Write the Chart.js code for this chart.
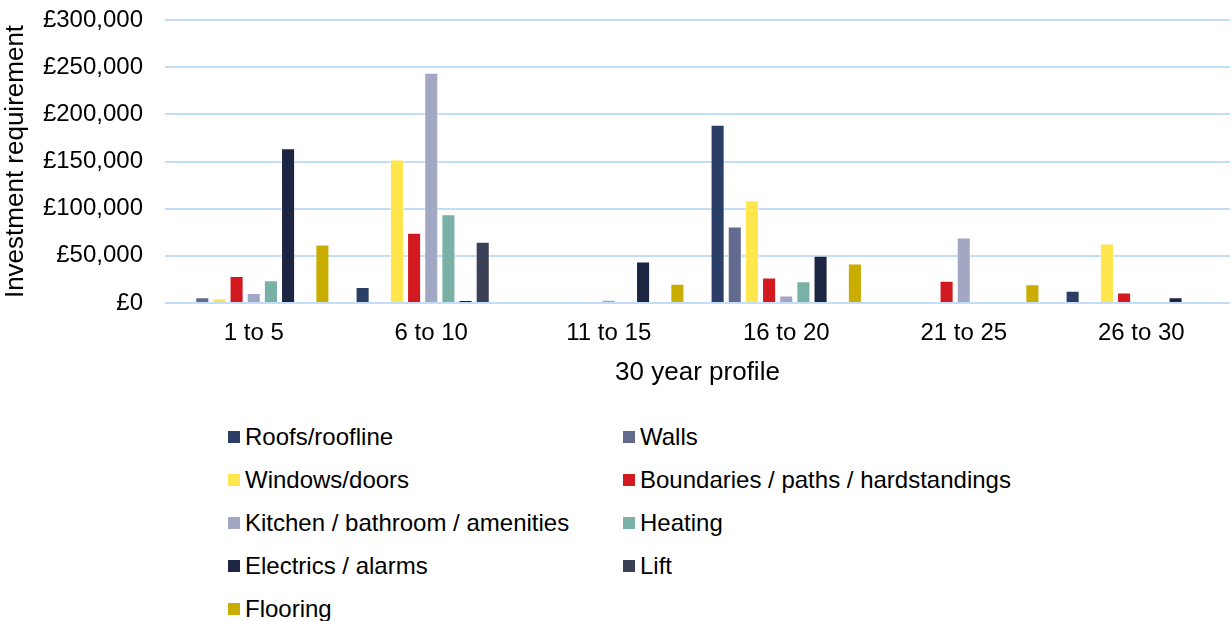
<!DOCTYPE html>
<html lang="en">
<head>
    <meta charset="UTF-8">
    <title>30 year profile</title>
    <script src="https://cdn.jsdelivr.net/npm/chart.js"></script>
    <style>
        body { margin: 0; background: #fff; font-family: 'Liberation Sans', Arial, sans-serif; }
        #wrap { position: relative; width: 1232px; height: 621px; }
        #legend { position: absolute; left: 228px; top: 424px; display: grid;
                  grid-template-columns: 395px 400px; row-gap: 17px; font-size: 24px; color: #000; }
        #legend div { display: flex; align-items: center; height: 26px; white-space: nowrap; }
        #legend span.box { display: inline-block; width: 12px; height: 12px; margin-right: 5px; }
    </style>
</head>
<body>
<div id="wrap">
    <canvas id="myChart" width="1232" height="400"></canvas>
    <div id="legend"></div>
</div>
<script>
    // categories / tick labels
    const periods = ['1 to 5', '6 to 10', '11 to 15', '16 to 20', '21 to 25', '26 to 30'];
    const yTicks = [0, 50000, 100000, 150000, 200000, 250000, 300000];

    // series values (£)
    const roofs      = [0,      17000,  0,     189000, 0,     13000];
    const walls      = [6000,   0,      0,     81000,  0,     0];
    const windows    = [5000,   152000, 1500,  109000, 0,     63000];
    const boundaries = [28500,  74500,  0,     27000,  23500, 11000];
    const kitchen    = [10500,  244000, 3500,  8000,   69500, 0];
    const heating    = [24000,  94000,  0,     23000,  0,     0];
    const electrics  = [164000, 3000,   44000, 50000,  0,     6000];
    const lift       = [0,      65000,  0,     0,      0,     0];
    const flooring   = [62000,  0,      20500, 42000,  20000, 0];

    const seriesNames = ['Roofs/roofline', 'Walls', 'Windows/doors', 'Boundaries / paths / hardstandings',
        'Kitchen / bathroom / amenities', 'Heating', 'Electrics / alarms', 'Lift', 'Flooring'];
    const seriesValues = [roofs, walls, windows, boundaries, kitchen, heating, electrics, lift, flooring];
    const seriesColors = ['#2b3e66', '#626b8f', '#ffe64d', '#d1191f', '#a2a7c3', '#79b1a6', '#1c2541', '#3b4056', '#c9ad00'];

    const font = "'Liberation Sans', Arial, sans-serif";
    const gridBlue = '#c2ddf7';

    const ctx = document.getElementById('myChart').getContext('2d');
    const myChart = new Chart(ctx, {
        type: 'bar',
        data: {
            labels: periods,
            datasets: seriesNames.map((name, i) => ({
                label: name,
                data: seriesValues[i],
                backgroundColor: seriesColors[i],
                borderColor: 'rgba(255,255,255,0.45)',
                borderWidth: 1,
                categoryPercentage: 0.87,
                barPercentage: 0.82
            }))
        },
        options: {
            responsive: false,
            devicePixelRatio: 1,
            animation: false,
            layout: { padding: { top: 0, right: 2, left: 0, bottom: 0 } },
            plugins: { legend: { display: false }, tooltip: { enabled: false } },
            scales: {
                x: {
                    grid: { display: false },
                    border: { display: false },
                    ticks: { color: '#000', font: { family: font, size: 24 }, padding: 8 },
                    title: { display: true, text: '30 year profile', color: '#000',
                             font: { family: font, size: 26 }, padding: { top: 6, bottom: 12 } },
                    afterFit: (scale) => { scale.height = 97; }
                },
                y: {
                    min: 0,
                    max: 300000,
                    afterBuildTicks: (scale) => { scale.ticks = yTicks.map(v => ({ value: v })); },
                    grid: { color: gridBlue, lineWidth: 2, drawTicks: false },
                    border: { display: false },
                    ticks: {
                        color: '#000', font: { family: font, size: 24 }, padding: 22,
                        callback: (v) => '£' + Number(v).toLocaleString('en-GB')
                    },
                    title: { display: true, text: 'Investment requirement', color: '#000',
                             font: { family: font, size: 26 }, padding: { top: 0, bottom: 2 } },
                    afterFit: (scale) => {
                        scale.width = 165;
                        scale.paddingTop = 20; // keep top gridline where the picture has it
                    }
                }
            }
        }
    });

    // legend in two columns, built from the chart's datasets
    const legendEl = document.getElementById('legend');
    myChart.data.datasets.forEach(ds => {
        const item = document.createElement('div');
        item.innerHTML = `<span class="box" style="background:${ds.backgroundColor}"></span>${ds.label}`;
        legendEl.appendChild(item);
    });
</script>
</body>
</html>
